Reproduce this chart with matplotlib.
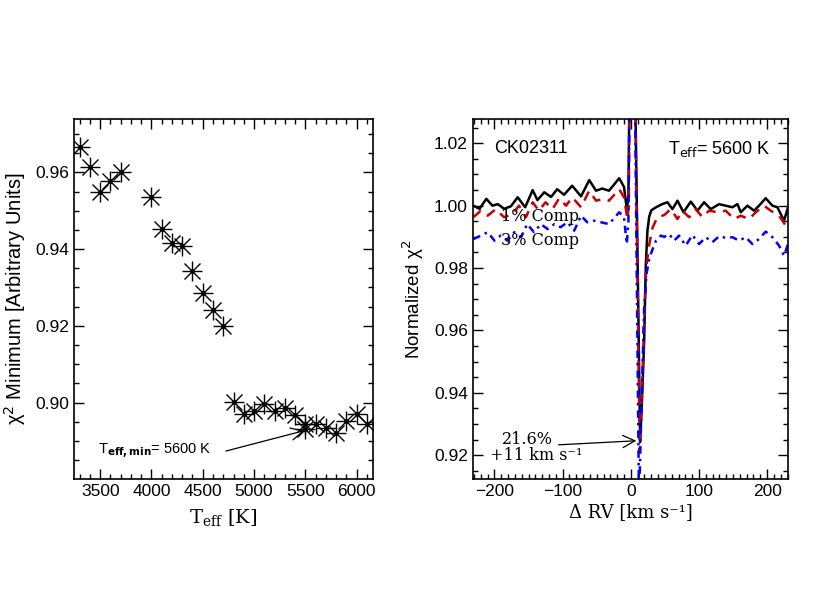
import numpy as np
import matplotlib
matplotlib.use('Agg')
import matplotlib.pyplot as plt
from matplotlib.ticker import MultipleLocator

plt.rcParams['font.family'] = ['Liberation Sans', 'DejaVu Sans']
plt.rcParams['axes.unicode_minus'] = True

# left panel: chi^2 minimum vs Teff
teff = [3300, 3400, 3500, 3600, 3700, 4000, 4100, 4200, 4300, 4400, 4500, 4600, 4700,
        4800, 4900, 5000, 5100, 5200, 5300, 5400, 5500, 5500, 5600, 5700, 5800, 5900, 6000, 6100]
chi2_min = [0.9665, 0.9615, 0.9550, 0.9577, 0.9600, 0.9535, 0.9452, 0.9415, 0.9407, 0.9342,
            0.9286, 0.9241, 0.9200, 0.9002, 0.8970, 0.8978, 0.8996, 0.8978, 0.8987, 0.8967,
            0.8943, 0.8930, 0.8943, 0.8935, 0.8922, 0.8951, 0.8970, 0.8944]

# right panel: normalized chi^2 vs delta RV
rv_black = [-231, -222, -212, -203, -195, -186, -176, -166, -155, -144, -137, -127, -117, -108,
            -98, -86, -73, -61, -51, -42, -32, -17, -10, -5.9, -3.5, -1, 5, 13.7, 16.5, 19.5,
            22, 24.4, 27, 30, 37, 46, 53.8, 61.1, 68.5, 77.3, 88, 97.8, 107.5, 117.3, 129.5,
            139.3, 149.1, 156.5, 161.3, 171.1, 180.8, 188.1, 197.9, 207.8, 215.1, 224.8, 230.7]
chi_black = [1.0000, 0.9990, 1.0022, 1.0000, 1.0005, 0.9990, 0.9998, 1.0027, 0.9995, 1.0050,
             1.0018, 1.0043, 1.0028, 1.0053, 1.0035, 1.0064, 1.0030, 1.0082, 1.0048, 1.0055,
             1.0048, 1.0088, 1.0060, 0.9990, 1.0030, 1.0600, 1.0600, 0.9242, 0.9380, 0.9560,
             0.9810, 0.9920, 0.9965, 0.9985, 0.9995, 1.0005, 1.0011, 0.9989, 1.0016, 0.9979,
             1.0013, 0.9984, 1.0011, 0.9989, 1.0005, 1.0000, 0.9995, 1.0005, 0.9979, 1.0000,
             0.9984, 1.0000, 1.0024, 1.0000, 0.9995, 0.9952, 0.9995]

rv_red = [-231, -220, -210, -198, -186, -174, -164, -154, -144, -135, -125, -115, -105, -95,
          -86, -73, -61, -51, -42, -32, -17, -10, -5, -3, -1, 5, 13, 17, 20, 22.5, 27, 32, 39,
          49, 58.7, 68.5, 75.8, 85.5, 95.3, 105.1, 114.8, 127.1, 139.3, 151.5, 161.3, 173.5,
          183.3, 195.5, 205.3, 217.5, 227.3, 230.7]
chi_red = [0.9963, 0.9984, 0.9968, 0.9989, 0.9963, 0.9973, 1.0000, 0.9963, 1.0011, 0.9984,
           1.0011, 0.9989, 1.0024, 1.0000, 1.0027, 0.9995, 1.0048, 1.0016, 1.0021, 1.0016,
           1.0053, 1.0027, 0.9957, 1.0000, 1.0600, 1.0600, 0.9210, 0.9450, 0.9650, 0.9800,
           0.9875, 0.9930, 0.9963, 0.9970, 0.9989, 0.9957, 0.9984, 0.9963, 0.9989, 0.9963,
           0.9984, 0.9979, 0.9984, 0.9957, 0.9968, 0.9957, 0.9979, 1.0000, 0.9984, 0.9968,
           0.9936, 0.9952]

rv_blue = [-231, -220, -210, -200, -191, -181, -171, -161, -152, -142, -132, -122, -112, -103,
           -93, -83, -73, -64, -54, -44, -32, -17, -10, -5.9, -3.5, -1, 5, 12, 15, 19.5, 23,
           27, 32, 37, 44, 49, 56.2, 63.5, 70.9, 80.6, 90.4, 100.2, 110, 119.7, 129.5, 139.3,
           149.1, 158.8, 168.6, 178.4, 188.1, 197.9, 207.8, 217.5, 224.8, 230.7]
chi_blue = [0.9893, 0.9904, 0.9915, 0.9888, 0.9904, 0.9888, 0.9915, 0.9899, 0.9941, 0.9915,
            0.9941, 0.9925, 0.9941, 0.9931, 0.9947, 0.9920, 0.9968, 0.9947, 0.9952, 0.9947,
            0.9941, 0.9979, 0.9963, 0.9877, 0.9950, 1.0600, 1.0600, 0.9050, 0.9300, 0.9670,
            0.9780, 0.9830, 0.9861, 0.9888, 0.9904, 0.9900, 0.9909, 0.9888, 0.9904, 0.9872,
            0.9906, 0.9877, 0.9899, 0.9883, 0.9902, 0.9897, 0.9899, 0.9888, 0.9899, 0.9877,
            0.9893, 0.9917, 0.9899, 0.9872, 0.9840, 0.9877]

fig = plt.figure(figsize=(8.3, 6.0), dpi=100)
ax1 = fig.add_axes([0.0892, 0.2017, 0.3602, 0.6])
ax2 = fig.add_axes([0.5695, 0.2012, 0.3802, 0.6])

serif = 'DejaVu Serif'


def style_axis(ax):
    ax.tick_params(which='both', direction='in', top=True, right=True, labelsize=12.5, width=1)
    ax.tick_params(which='major', length=7)
    ax.tick_params(which='minor', length=3.5)
    for sp in ax.spines.values():
        sp.set_linewidth(1.2)


# left panel
ax1.plot(teff, chi2_min, ls='none', marker='+', ms=14, mew=1, color='black')
ax1.plot(teff, chi2_min, ls='none', marker='x', ms=11, mew=1, color='black')
ax1.plot(teff, chi2_min, ls='none', marker='o', ms=2.5, color='black')
ax1.set_xlim(3245, 6160)
ax1.set_ylim(0.8801, 0.9739)
ax1.xaxis.set_major_locator(MultipleLocator(500))
ax1.xaxis.set_minor_locator(MultipleLocator(100))
ax1.yaxis.set_major_locator(MultipleLocator(0.02))
ax1.yaxis.set_minor_locator(MultipleLocator(0.005))
ax1.yaxis.set_major_formatter(plt.FormatStrFormatter('%.2f'))
style_axis(ax1)
ax1.set_xlabel(r'T$_{\rm eff}$ [K]', family=serif, fontsize=14, math_fontfamily='dejavuserif', labelpad=6)
ax1.set_ylabel('χ$^2$ Minimum [Arbitrary Units]', fontsize=14.5, labelpad=5)
ax1.annotate('', xy=(5519, 0.8929), xytext=(4700, 0.8872),
             arrowprops=dict(arrowstyle='->', color='black', lw=0.9, mutation_scale=22))
ax1.text(3478, 0.8874, r'T$_{\mathbf{eff,min}}$= 5600 K', fontsize=10.5, va='center', ha='left')

# right panel
ax2.plot(rv_black, chi_black, color='black', lw=1.8)
ax2.plot(rv_red, chi_red, color='#c80000', lw=1.8, ls=(0, (4, 3)))
ax2.plot(rv_blue, chi_blue, color='#0000ff', lw=1.8, ls=(0, (3, 2, 1, 2)))
ax2.set_xlim(-232, 231)
ax2.set_ylim(0.9123, 1.0277)
ax2.xaxis.set_major_locator(MultipleLocator(100))
ax2.xaxis.set_minor_locator(MultipleLocator(10))
ax2.yaxis.set_major_locator(MultipleLocator(0.02))
ax2.yaxis.set_minor_locator(MultipleLocator(0.005))
ax2.yaxis.set_major_formatter(plt.FormatStrFormatter('%.2f'))
style_axis(ax2)
ax2.set_xlabel('Δ RV [km s⁻¹]', family=serif, fontsize=13, labelpad=3)
ax2.set_ylabel('Normalized χ$^2$', fontsize=13.5, labelpad=6)

ax2.text(-201, 1.0182, 'CK02311', fontsize=13, va='center', ha='left')
ax2.text(205, 1.0182, r'T$_{\rm eff}$= 5600 K', fontsize=13, va='center', ha='right')
ax2.text(-190, 0.9965, '1% Comp', family=serif, fontsize=11.5, va='center', ha='left')
ax2.text(-190, 0.9890, '3% Comp', family=serif, fontsize=11.5, va='center', ha='left')
ax2.annotate('', xy=(12.2, 0.9247), xytext=(-110, 0.9233),
             arrowprops=dict(arrowstyle='->', color='black', lw=0.9, mutation_scale=22))
ax2.text(-151.5, 0.9249, '21.6%', family=serif, fontsize=11.5, va='center', ha='center')
ax2.text(-139, 0.9199, '+11 km s⁻¹', family=serif, fontsize=11.5, va='center', ha='center')

fig.savefig('out.png', dpi=100)
